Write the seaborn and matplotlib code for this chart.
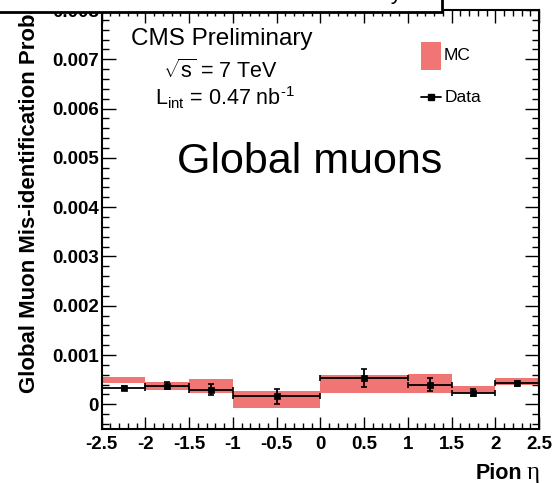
import numpy as np
import matplotlib
matplotlib.use("Agg")
import matplotlib.pyplot as plt
from matplotlib.patches import Rectangle
from matplotlib.lines import Line2D
from matplotlib.ticker import MultipleLocator, FuncFormatter
import seaborn as sns

# Pion eta binning and mis-identification probabilities
bin_edges = [-2.5, -2.0, -1.5, -1.0, 0.0, 1.0, 1.5, 2.0, 2.5]
mc_low = [0.00043, 0.00030, 0.00024, -0.00007, 0.00023, 0.00023, 0.00023, 0.00040]
mc_high = [0.000565, 0.000445, 0.000505, 0.00028, 0.000605, 0.000625, 0.00037, 0.000525]
data_prob = [0.000335, 0.000375, 0.000295, 0.00016, 0.00054, 0.000395, 0.000235, 0.00043]
data_err = [0.00004, 0.00007, 0.00011, 0.00015, 0.00018, 0.00013, 0.00007, 0.00005]

sns.set_theme(style="ticks")
plt.rcParams["font.family"] = ["Liberation Sans", "DejaVu Sans"]
plt.rcParams["text.color"] = "black"
plt.rcParams["axes.labelcolor"] = "black"
plt.rcParams["xtick.color"] = "black"
plt.rcParams["ytick.color"] = "black"
plt.rcParams["axes.unicode_minus"] = False
plt.rcParams["mathtext.fontset"] = "custom"
plt.rcParams["mathtext.rm"] = "Liberation Sans"
plt.rcParams["mathtext.it"] = "Liberation Sans:italic"

W, H = 556, 483
fig = plt.figure(figsize=(W / 100, H / 100), dpi=100)
fig.patch.set_facecolor("white")


def fx(px):
    return px / W


def fy(py):
    return 1 - py / H


ax = fig.add_axes([fx(101.7), fy(429), fx(539) - fx(101.7), fy(10) - fy(429)])
ax.set_facecolor("white")

edges = np.array(bin_edges)
widths = np.diff(edges)
centers = edges[:-1] + widths / 2
lo = np.array(mc_low)
hi = np.array(mc_high)

mc_color = "#F07575"
ax.bar(edges[:-1], hi - lo, bottom=lo, width=widths, align="edge",
       color=mc_color, linewidth=0, zorder=2)

ax.errorbar(centers, data_prob, xerr=widths / 2, yerr=data_err, fmt="none",
            ecolor="black", elinewidth=1.3, capsize=2, capthick=1.2, zorder=3)
sns.scatterplot(x=centers, y=data_prob, marker="s", color="black", s=22,
                edgecolor="black", linewidth=0.5, ax=ax, zorder=4, legend=False)

ax.set_xlim(-2.5, 2.5)
ax.set_ylim(-0.0005, 0.008)

ax.xaxis.set_major_locator(MultipleLocator(0.5))
ax.xaxis.set_minor_locator(MultipleLocator(0.1))
ax.yaxis.set_major_locator(MultipleLocator(0.001))
ax.yaxis.set_minor_locator(MultipleLocator(0.0002))
ax.xaxis.set_major_formatter(FuncFormatter(lambda v, p: f"{v:g}"))
ax.yaxis.set_major_formatter(
    FuncFormatter(lambda v, p: "0" if abs(v) < 1e-12 else f"{v:.3f}"))

ax.tick_params(axis="both", which="both", direction="in", top=True, right=True,
               color="black", width=1.0)
ax.tick_params(axis="y", which="major", length=10, pad=2)
ax.tick_params(axis="y", which="minor", length=5)
ax.tick_params(axis="x", which="major", length=9, pad=5)
ax.tick_params(axis="x", which="minor", length=4.5)
for lab in ax.get_xticklabels() + ax.get_yticklabels():
    lab.set_fontweight("bold")
    lab.set_fontsize(13.5)
    lab.set_color("black")
for sp in ax.spines.values():
    sp.set_linewidth(1.5)
    sp.set_color("black")

ax.set_xlabel("")
ax.set_ylabel("")

# Axis titles
fig.text(fx(30), fy(393), "Global Muon Mis-identification Probability",
         rotation=90, ha="center", va="bottom", fontsize=16, fontweight="bold")
fig.text(fx(522), fy(479), "Pion", ha="right", va="baseline",
         fontsize=15.5, fontweight="bold")
fig.text(fx(533), fy(479), "η", ha="center", va="baseline",
         fontsize=18, family=["Liberation Serif", "DejaVu Serif"])

# Annotations
fig.text(fx(131), fy(45), "CMS Preliminary", ha="left", va="baseline", fontsize=17.5)
fig.text(fx(220), fy(78), r"$\sqrt{\mathregular{s}}$ = 7 TeV", ha="center",
         va="baseline", fontsize=15.5)
fig.text(fx(225), fy(105), r"L$_{\mathregular{int}}$ = 0.47 nb$^{\text{-1}}$",
         ha="center", va="baseline", fontsize=15.5)
fig.text(fx(177), fy(173), "Global muons", ha="left", va="baseline", fontsize=31)

# Legend entries
fig.patches.append(Rectangle((fx(421), fy(70)), fx(441) - fx(421), fy(42) - fy(70),
                             transform=fig.transFigure, facecolor=mc_color,
                             edgecolor="none", zorder=5))
fig.text(fx(444), fy(56), "MC", ha="left", va="center", fontsize=12.5)
fig.lines.append(Line2D([fx(421), fx(441)], [fy(97), fy(97)],
                        transform=fig.transFigure, color="black", lw=1.3, zorder=5))
fig.lines.append(Line2D([fx(431)], [fy(97)], transform=fig.transFigure,
                        color="black", marker="s", markersize=4, lw=0, zorder=6))
fig.text(fx(445), fy(97), "Data", ha="left", va="center", fontsize=12.5)

# Title box at the top of the canvas
title_box = Rectangle((fx(-10), fy(12)), fx(442) - fx(-10), 0.2,
                      transform=fig.transFigure, facecolor="white",
                      edgecolor="black", linewidth=2.0, zorder=10)
fig.patches.append(title_box)
fig.text(fx(402), fy(-1), "Global Muon Mis-identification Probability",
         ha="right", va="baseline", fontsize=16, zorder=11)

fig.savefig("out.png", dpi=100)
